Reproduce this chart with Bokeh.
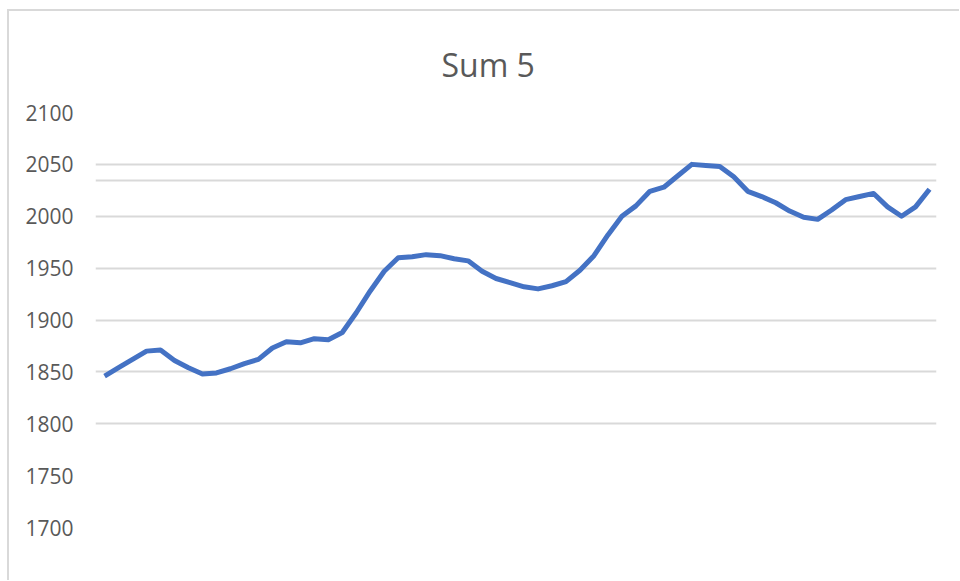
from bokeh.plotting import figure
from bokeh.models import FixedTicker, Range1d
from bokeh.embed import file_html
from bokeh.resources import INLINE

title_text = "Sum 5"
x_index = list(range(60))
sum5 = [1846, 1854, 1862, 1870, 1871, 1861, 1854, 1848, 1849, 1853,
        1858, 1862, 1873, 1879, 1878, 1882, 1881, 1888, 1907, 1928,
        1947, 1960, 1961, 1963, 1962, 1959, 1957, 1947, 1940, 1936,
        1932, 1930, 1933, 1937, 1948, 1962, 1982, 2000, 2010, 2024,
        2028, 2039, 2050, 2049, 2048, 2038, 2024, 2019, 2013, 2005,
        1999, 1997, 2006, 2016, 2019, 2022, 2009, 2000, 2009, 2026]
y_ticks = [1700, 1750, 1800, 1850, 1900, 1950, 2000, 2050, 2100]
grid_ticks = [1800, 1850, 1900, 1950, 2000, 2034.6, 2050, 2100]

p = figure(width=952, height=571, output_backend="svg", toolbar_location=None,
           x_range=Range1d(-0.65, 59.5), y_range=Range1d(1700, 2100),
           min_border_left=86, min_border_right=25, min_border_top=101,
           min_border_bottom=55, title=title_text)
p.styles = {"border-left": "2px solid #d9d9d9", "border-top": "2px solid #d9d9d9",
            "margin-left": "7px", "margin-top": "9px"}

p.line(x_index, sum5, line_color="#4472C4", line_width=5, line_join="round")

p.title.align = "left"
p.title.offset = 346
p.title.text_font = "Open Sans"
p.title.text_font_size = "32px"
p.title.text_font_style = "normal"
p.title.text_color = "#595959"
p.title.standoff = 54

p.xaxis.visible = False
ax = p.yaxis[0]
ax.ticker = FixedTicker(ticks=y_ticks)
ax.axis_line_color = None
ax.major_tick_line_color = None
ax.minor_tick_line_color = None
ax.major_tick_out = 0
ax.major_label_standoff = 22
ax.major_label_text_font = "Open Sans"
ax.major_label_text_font_size = "21px"
ax.major_label_text_color = "#595959"

p.xgrid.visible = False
p.ygrid.ticker = FixedTicker(ticks=grid_ticks)
p.ygrid.grid_line_color = "#d9d9d9"
p.ygrid.grid_line_width = 2
p.outline_line_color = None

open("out.html", "w").write(file_html(p, INLINE))
